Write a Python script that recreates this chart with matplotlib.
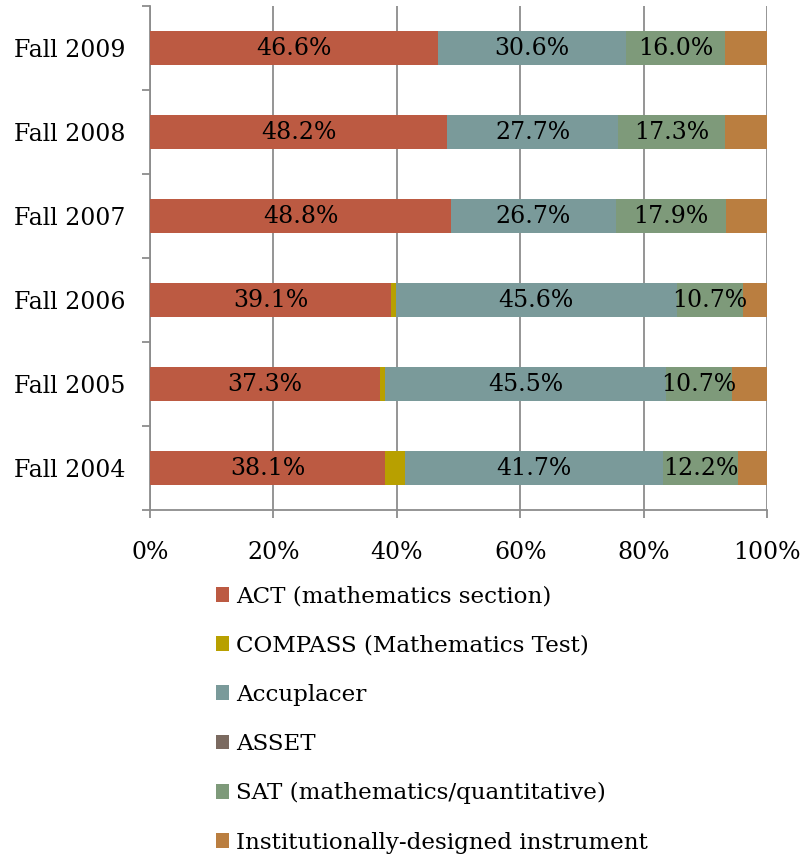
import matplotlib
matplotlib.use("Agg")
import matplotlib.pyplot as plt
from matplotlib.patches import Patch
import numpy as np

plt.rcParams['font.family'] = ['DejaVu Serif']

# data, bottom row first (Fall 2004 at the bottom)
terms = ["Fall 2004", "Fall 2005", "Fall 2006", "Fall 2007", "Fall 2008", "Fall 2009"]
act = [38.1, 37.3, 39.1, 48.8, 48.2, 46.6]
compass = [3.3, 0.8, 0.7, 0.0, 0.0, 0.0]
accuplacer = [41.7, 45.5, 45.6, 26.7, 27.7, 30.6]
asset = [0.0, 0.0, 0.0, 0.0, 0.0, 0.0]
sat = [12.2, 10.7, 10.7, 17.9, 17.3, 16.0]
institutional = [4.7, 5.7, 3.9, 6.6, 6.8, 6.8]

series_names = ["ACT (mathematics section)", "COMPASS (Mathematics Test)", "Accuplacer",
                "ASSET", "SAT (mathematics/quantitative)", "Institutionally-designed instrument"]
series = [act, compass, accuplacer, asset, sat, institutional]
colors = ["#BC5A42", "#B8A000", "#7A9A9A", "#7B6A60", "#7E9A7A", "#BA7E40"]
labelled = [True, False, True, False, True, False]

fig = plt.figure(figsize=(8.02, 8.55), dpi=100)
ax = fig.add_axes([150/802, 1 - 510/855, 617/802, 504/855])

y = np.arange(len(terms))
left = np.zeros(len(terms))
for vals, col, lab in zip(series, colors, labelled):
    vals = np.array(vals)
    ax.barh(y, vals, left=left, height=0.4, color=col, zorder=3)
    if lab:
        for yi, l, v in zip(y, left, vals):
            ax.text(l + v/2, yi, f"{v:.1f}%", ha='center', va='center', fontsize=17, zorder=4)
    left = left + vals

ax.set_xlim(0, 100)
ax.set_ylim(-0.5, len(terms) - 0.5)
ax.set_xticks(np.arange(0, 101, 20))
ax.set_xticklabels([f"{v}%" for v in range(0, 101, 20)], fontsize=17)
ax.xaxis.grid(True, color='#8c8c8c', linewidth=1.3, zorder=0)
ax.tick_params(axis='x', length=6, color='#8c8c8c', width=1.3, pad=16)

ax.set_yticks(np.arange(-0.5, len(terms), 1.0))
ax.set_yticklabels([])
ax.tick_params(axis='y', length=6, color='#8c8c8c', width=1.3)
ax.set_yticks(y, minor=True)
ax.set_yticklabels(terms, minor=True, fontsize=17)
ax.tick_params(axis='y', which='minor', length=0, pad=18)

for s in ['top', 'right']:
    ax.spines[s].set_visible(False)
for s in ['left', 'bottom']:
    ax.spines[s].set_color('#8c8c8c')
    ax.spines[s].set_linewidth(1.3)

handles = [Patch(facecolor=c, edgecolor='none') for c in colors]
fig.legend(handles, series_names, loc='upper left', bbox_to_anchor=(204/802, 1 - 574/855),
           frameon=False, fontsize=16.6, handlelength=0.6, handleheight=0.6,
           handletextpad=0.3, labelspacing=1.18, borderpad=0)

fig.savefig("out.png", dpi=100)
